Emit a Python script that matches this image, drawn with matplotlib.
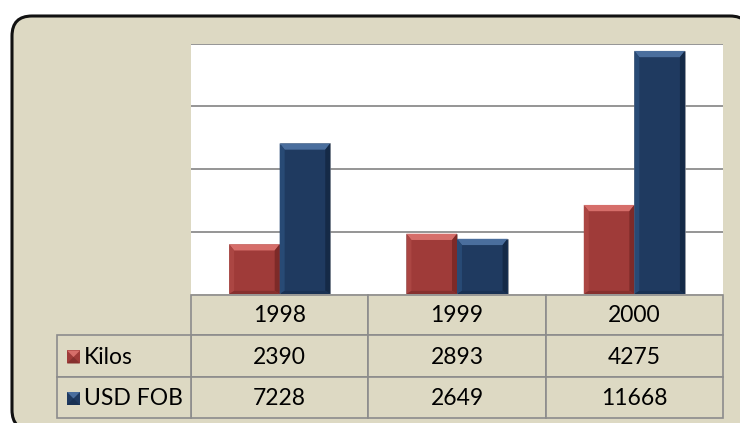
import numpy as np
import matplotlib
matplotlib.use("Agg")
import matplotlib.pyplot as plt
from matplotlib.patches import FancyBboxPatch, Rectangle, Polygon

# data
years = ["1998", "1999", "2000"]
kilos = [2390, 2893, 4275]
usd_fob = [7228, 2649, 11668]
series_names = ["Kilos", "USD FOB"]

# colours (face, top, left, right, bottom)
red = ["#9F3B39", "#D66E6A", "#AB4643", "#7D2A28", "#86302E"]
blue = ["#1F3A60", "#4A6E9D", "#284A75", "#152A47", "#193153"]
beige = "#DDD9C3"
grid_col = "#8C8C8C"

W, H = 740, 423
plt.rcParams["font.family"] = ["Lato", "DejaVu Sans"]
fig = plt.figure(figsize=(W / 100, H / 100), dpi=100)

# ================================
# background (pixel coordinates)
# ================================
bg = fig.add_axes([0, 0, 1, 1], zorder=0)
bg.set_xlim(0, W)
bg.set_ylim(H, 0)
bg.axis("off")
bg.add_patch(FancyBboxPatch((12, 16), 738, 414,
                            boxstyle="round,pad=0,rounding_size=20",
                            facecolor=beige, edgecolor="#111111", linewidth=2.2))

# plot area box in px
px0, px1, py0, py1 = 191, 723, 44, 294
ax = fig.add_axes([px0 / W, (H - py1) / H, (px1 - px0) / W, (py1 - py0) / H], zorder=2)
ax.set_facecolor("white")
ax.set_ylim(0, 12000)
ax.set_xlim(-0.5, len(years) - 0.5)
ax.set_yticks([3000, 6000, 9000, 12000])
ax.yaxis.grid(True, color=grid_col, linewidth=1.3)
ax.set_axisbelow(True)
for s in ax.spines.values():
    s.set_visible(False)
ax.tick_params(left=False, bottom=False, labelleft=False, labelbottom=False)

x = np.arange(len(years))
bw = 0.285


def bevel_bars(xs, vals, cols):
    bars = ax.bar(xs, vals, width=bw, color=cols[0], edgecolor="#9a9a9a",
                  linewidth=0.4, zorder=3)
    dx = 0.028
    dy = 300
    for b in bars:
        x0, w, h = b.get_x(), b.get_width(), b.get_height()
        x1 = x0 + w
        ax.add_patch(Polygon([(x0, h), (x1, h), (x1 - dx, h - dy), (x0 + dx, h - dy)],
                             closed=True, facecolor=cols[1], edgecolor="none", zorder=4))
        ax.add_patch(Polygon([(x0, 0), (x0, h), (x0 + dx, h - dy), (x0 + dx, dy * 0.5)],
                             closed=True, facecolor=cols[2], edgecolor="none", zorder=4))
        ax.add_patch(Polygon([(x1, 0), (x1, h), (x1 - dx, h - dy), (x1 - dx, dy * 0.5)],
                             closed=True, facecolor=cols[3], edgecolor="none", zorder=4))
        ax.add_patch(Polygon([(x0, 0), (x1, 0), (x1 - dx, dy * 0.5), (x0 + dx, dy * 0.5)],
                             closed=True, facecolor=cols[4], edgecolor="none", zorder=4))


bevel_bars(x - bw / 2, kilos, red)
bevel_bars(x + bw / 2, usd_fob, blue)

# ================================
# data table (pixel coordinates on bg)
# ================================
lab_x0 = 57
col_w = (px1 - px0) / len(years)
row_y = [295, 335, 377, 418]
fs = 16.5

rows = [years, [str(v) for v in kilos], [str(v) for v in usd_fob]]
for r, vals in enumerate(rows):
    ytop, ybot = row_y[r], row_y[r + 1]
    for c, txt in enumerate(vals):
        xl = px0 + c * col_w
        bg.add_patch(Rectangle((xl, ytop), col_w, ybot - ytop, facecolor=beige,
                               edgecolor=grid_col, linewidth=1.2, zorder=3))
        bg.text(xl + col_w / 2, (ytop + ybot) / 2 + 1, txt, ha="center", va="center",
                fontsize=fs, color="black", zorder=5)
    if r > 0:
        bg.add_patch(Rectangle((lab_x0, ytop), px0 - lab_x0, ybot - ytop, facecolor=beige,
                               edgecolor=grid_col, linewidth=1.2, zorder=3))
        cols = red if r == 1 else blue
        sq = 13
        sx, sy = lab_x0 + 10, (ytop + ybot) / 2 - sq / 2 + 1
        bg.add_patch(Rectangle((sx, sy), sq, sq, facecolor=cols[0], edgecolor="none", zorder=5))
        bg.add_patch(Polygon([(sx, sy), (sx + sq, sy), (sx + sq / 2, sy + sq / 2)],
                             facecolor=cols[1], edgecolor="none", zorder=6))
        bg.add_patch(Polygon([(sx, sy + sq), (sx + sq, sy + sq), (sx + sq / 2, sy + sq / 2)],
                             facecolor=cols[4], edgecolor="none", zorder=6))
        bg.text(sx + sq + 4, (ytop + ybot) / 2 + 1, series_names[r - 1], ha="left",
                va="center", fontsize=fs, color="black", zorder=5)

fig.savefig("out.png", dpi=100)
